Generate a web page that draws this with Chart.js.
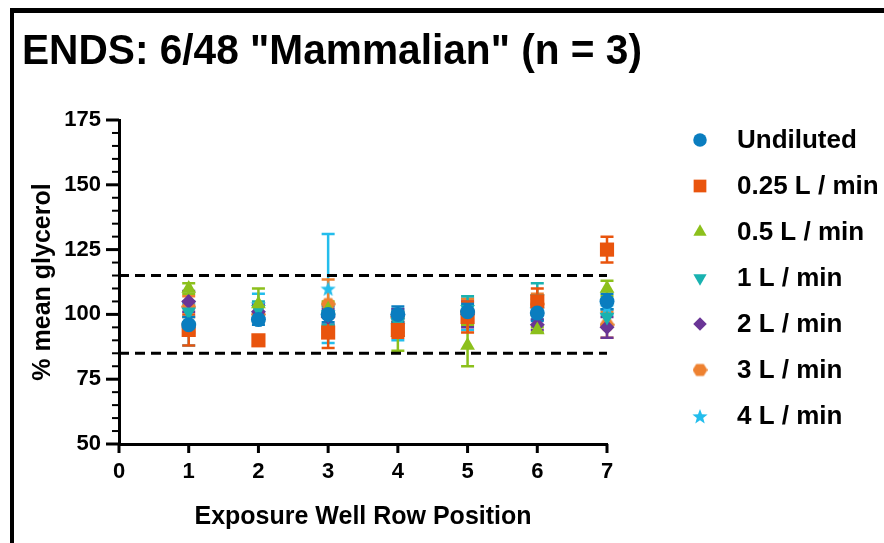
<!DOCTYPE html>
<html>
<head>
<meta charset="utf-8">
<script src="https://cdn.jsdelivr.net/npm/chart.js@4.4.0/dist/chart.umd.min.js"></script>
<style>
    html, body { margin: 0; padding: 0; background: #fff; }
    #wrap { position: relative; width: 884px; height: 543px; overflow: hidden; }
    #frame { position: absolute; left: 10px; top: 8px; width: 900px; height: 600px; border-left: 4px solid #000; border-top: 5px solid #000; }
    #chart { position: absolute; left: 0; top: 0; }
</style>
</head>
<body>
<div id="wrap">
    <div id="frame"></div>
    <canvas id="chart" width="884" height="543"></canvas>
</div>
<script>
// Datos (media y desviación por fila)
const positions = [1, 2, 3, 4, 5, 6, 7];
const seriesNames = ['Undiluted', '0.25 L / min', '0.5 L / min', '1 L / min', '2 L / min', '3 L / min', '4 L / min'];
const chartTitle = 'ENDS: 6/48 "Mammalian" (n = 3)';

const undiluted = [96, 98, 100, 100, 101, 100.5, 105];
const undilutedSd = [3, 2, 3, 3, 3, 3, 3];
const flow025 = [94, 90, 93, 94, 99, 105, 125];
const flow025Sd = [6, 2, 6, 3, 6, 5, 5];
const flow05 = [110, 104, 102, 93, 88, 94, 110];
const flow05Sd = [2, 6, 3, 7, 8, 1, 3];
const flow1 = [101, 102, 100, 97, 102, 106, 99];
const flow1Sd = [4, 3, 4, 4, 5, 6, 3];
const flow2 = [105, 101, 99, 100, 100, 96, 95];
const flow2Sd = [4, 3, 3, 2, 5, 2, 4];
const flow3 = [103, 100, 104, 99, 101, 104, 96];
const flow3Sd = [4, 3, 9.5, 2, 5, 4, 5];
const flow4 = [96, 104, 110, 96, 100, 102, 103];
const flow4Sd = [8, 4, 21, 6, 6, 4, 3];

const yTicksMin = 50;
const yTicksMax = 175;
const xTicksMin = 0;
const xTicksMax = 7;
const limitUpper = 115;
const limitLower = 85;

const colors = ['#0a7dbf', '#e9540d', '#8cc01c', '#19b2b0', '#6a3596', '#ee8130', '#23bdec'];
const fontFamily = '"Liberation Sans", Arial, sans-serif';

// Marcadores propios: hexágono y estrella rellena
function makeHexagon(color, size) {
    const c = document.createElement('canvas');
    c.width = size; c.height = size;
    const g = c.getContext('2d');
    const r = size / 2;
    g.fillStyle = color;
    g.beginPath();
    for (let k = 0; k < 6; k++) {
        const a = Math.PI / 3 * k;
        const px = r + r * Math.cos(a);
        const py = r + r * 0.92 * Math.sin(a);
        if (k === 0) g.moveTo(px, py); else g.lineTo(px, py);
    }
    g.closePath();
    g.fill();
    return c;
}

function makeStar(color, size) {
    const c = document.createElement('canvas');
    c.width = size; c.height = size;
    const g = c.getContext('2d');
    const r = size / 2;
    g.fillStyle = color;
    g.beginPath();
    for (let k = 0; k < 10; k++) {
        const a = -Math.PI / 2 + Math.PI / 5 * k;
        const rr = k % 2 === 0 ? r : r * 0.42;
        const px = r + rr * Math.cos(a);
        const py = r + 1 + rr * Math.sin(a);
        if (k === 0) g.moveTo(px, py); else g.lineTo(px, py);
    }
    g.closePath();
    g.fill();
    return c;
}

const markers = [
    { pointStyle: 'circle', radius: 7.5, rotation: 0 },
    { pointStyle: 'rect', radius: 10, rotation: 0 },
    { pointStyle: 'triangle', radius: 8.5, rotation: 0 },
    { pointStyle: 'triangle', radius: 8.5, rotation: 180 },
    { pointStyle: 'rectRot', radius: 7.5, rotation: 0 },
    { pointStyle: makeHexagon(colors[5], 15), radius: 7.5, rotation: 0 },
    { pointStyle: makeStar(colors[6], 16), radius: 8, rotation: 0 },
];

const means = [undiluted, flow025, flow05, flow1, flow2, flow3, flow4];
const sds = [undilutedSd, flow025Sd, flow05Sd, flow1Sd, flow2Sd, flow3Sd, flow4Sd];

const datasets = seriesNames.map((name, i) => ({
    label: name,
    data: positions.map((p, j) => ({ x: p, y: means[i][j] })),
    sd: sds[i],
    backgroundColor: colors[i],
    borderColor: colors[i],
    borderWidth: 0,
    pointStyle: markers[i].pointStyle,
    pointRadius: markers[i].radius,
    pointRotation: markers[i].rotation,
    clip: false,
    order: 0,
}));

function limitLine(value) {
    return {
        label: 'limit',
        data: [{ x: xTicksMin, y: value }, { x: xTicksMax, y: value }],
        showLine: true,
        borderColor: '#000',
        borderWidth: 3,
        borderDash: [10, 6],
        pointRadius: 0,
        order: 10,
    };
}
datasets.push(limitLine(limitUpper), limitLine(limitLower));

// Barras de error (media ± DE)
const errorBars = {
    id: 'errorBars',
    beforeDatasetsDraw(chart) {
        const { ctx, scales: { x, y } } = chart;
        ctx.save();
        ctx.lineWidth = 2.5;
        for (let i = chart.data.datasets.length - 1; i >= 0; i--) {
            const ds = chart.data.datasets[i];
            if (!ds.sd) continue;
            ctx.strokeStyle = ds.borderColor;
            ds.data.forEach((p, j) => {
                const sd = ds.sd[j];
                if (!sd) return;
                const px = x.getPixelForValue(p.x);
                const top = y.getPixelForValue(p.y + sd);
                const bottom = y.getPixelForValue(p.y - sd);
                ctx.beginPath();
                ctx.moveTo(px, top);
                ctx.lineTo(px, bottom);
                ctx.moveTo(px - 6.5, top);
                ctx.lineTo(px + 6.5, top);
                ctx.moveTo(px - 6.5, bottom);
                ctx.lineTo(px + 6.5, bottom);
                ctx.stroke();
            });
        }
        ctx.restore();
    }
};

// Marcas de los ejes (mayores y menores)
const axisTicks = {
    id: 'axisTicks',
    afterDraw(chart) {
        const { ctx, chartArea, scales: { x, y } } = chart;
        ctx.save();
        ctx.strokeStyle = '#000';
        for (let v = yTicksMin; v <= yTicksMax; v += 5) {
            const py = y.getPixelForValue(v);
            const major = v % 25 === 0;
            ctx.lineWidth = major ? 3 : 2;
            ctx.beginPath();
            ctx.moveTo(chartArea.left - (major ? 13 : 7), py);
            ctx.lineTo(chartArea.left, py);
            ctx.stroke();
        }
        ctx.lineWidth = 3;
        for (let v = xTicksMin; v <= xTicksMax; v++) {
            const px = x.getPixelForValue(v);
            ctx.beginPath();
            ctx.moveTo(px, chartArea.bottom);
            ctx.lineTo(px, chartArea.bottom + 9);
            ctx.stroke();
        }
        ctx.restore();
    }
};

// Título y leyenda a la derecha
const titleAndLegend = {
    id: 'titleAndLegend',
    afterDraw(chart) {
        const ctx = chart.ctx;
        ctx.save();
        ctx.fillStyle = '#000';
        ctx.textBaseline = 'alphabetic';
        ctx.font = 'bold 42px ' + fontFamily;
        ctx.fillText(chartTitle, 22, 64, 620);

        ctx.font = 'bold 26px ' + fontFamily;
        ctx.textBaseline = 'middle';
        seriesNames.forEach((name, i) => {
            const cy = 140 + i * 46;
            ctx.fillStyle = colors[i];
            Chart.helpers.drawPoint(ctx, {
                pointStyle: markers[i].pointStyle,
                rotation: markers[i].rotation,
                radius: markers[i].radius * 0.9,
                borderWidth: 0,
            }, 700, cy);
            ctx.fillStyle = '#000';
            ctx.fillText(name, 737, cy + 1);
        });
        ctx.restore();
    }
};

const ctx = document.getElementById('chart').getContext('2d');

new Chart(ctx, {
    type: 'scatter',
    data: { datasets: datasets },
    options: {
        responsive: false,
        animation: false,
        devicePixelRatio: 1,
        layout: { padding: { left: 28, right: 277, top: 120, bottom: 0 } },
        plugins: {
            legend: { display: false },
            tooltip: { enabled: false },
            title: { display: false },
        },
        scales: {
            x: {
                type: 'linear',
                min: xTicksMin,
                max: xTicksMax,
                afterFit: scale => { scale.height = 99; },
                grid: { drawOnChartArea: false, drawTicks: false },
                border: { display: true, color: '#000', width: 3 },
                ticks: {
                    stepSize: 1,
                    padding: 15,
                    color: '#000',
                    font: { family: fontFamily, size: 22, weight: 'bold' },
                },
                title: {
                    display: true,
                    text: 'Exposure Well Row Position',
                    color: '#000',
                    font: { family: fontFamily, size: 25, weight: 'bold' },
                    padding: { top: 0, bottom: 11 },
                },
            },
            y: {
                min: yTicksMin,
                max: yTicksMax,
                afterFit: scale => { scale.width = 91; },
                grid: { drawOnChartArea: false, drawTicks: false },
                border: { display: true, color: '#000', width: 3 },
                ticks: {
                    stepSize: 25,
                    padding: 18,
                    color: '#000',
                    font: { family: fontFamily, size: 22, weight: 'bold' },
                },
                title: {
                    display: true,
                    text: '% mean glycerol',
                    color: '#000',
                    font: { family: fontFamily, size: 25, weight: 'bold' },
                    padding: { top: 0, bottom: 0 },
                },
            },
        },
    },
    plugins: [errorBars, axisTicks, titleAndLegend],
});
</script>
</body>
</html>
